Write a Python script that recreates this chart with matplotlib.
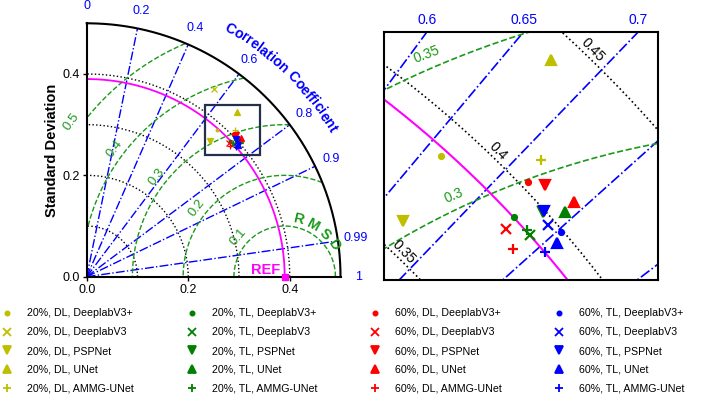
import numpy as np
import matplotlib
matplotlib.use('Agg')
import matplotlib.pyplot as plt
from matplotlib.lines import Line2D
from matplotlib.patches import Rectangle
from matplotlib.textpath import TextToPath
from matplotlib.font_manager import FontProperties

plt.rcParams['font.family'] = ['Liberation Sans', 'DejaVu Sans']

# ---------------- data ----------------
models = ['DeeplabV3+', 'DeeplabV3', 'PSPNet', 'UNet', 'AMMG-UNet']
model_markers = ['.', 'x', 'v', '^', '+']
groups = ['20%, DL', '20%, TL', '60%, DL', '60%, TL']
group_colors = [(0.75, 0.75, 0.0), (0.0, 0.5, 0.0), (1.0, 0.0, 0.0), (0.0, 0.0, 1.0)]

std_20_dl = [0.3875, 0.4466, 0.3608, 0.4399, 0.4115]
corr_20_dl = [0.662, 0.562, 0.672, 0.674, 0.712]
std_20_tl = [0.3901, 0.3901, 0.3990, 0.4052, 0.3904]
corr_20_tl = [0.7255, 0.7406, 0.7355, 0.7446, 0.7370]
std_60_dl = [0.4027, 0.3850, 0.4064, 0.4100, 0.3823]
corr_60_dl = [0.716, 0.7275, 0.7245, 0.7437, 0.7397]
std_60_tl = [0.3992, 0.3975, 0.3997, 0.3958, 0.3901]
corr_60_tl = [0.7517, 0.7437, 0.7355, 0.7552, 0.7548]

group_std = [std_20_dl, std_20_tl, std_60_dl, std_60_tl]
group_corr = [corr_20_dl, corr_20_tl, corr_60_dl, corr_60_tl]

ref_std = 0.39

# left (full) diagram
std_max = 0.5
cor_tick_values = [0, 0.2, 0.4, 0.6, 0.8, 0.9, 0.99, 1]
cor_tick_labels = ['0', '0.2', '0.4', '0.6', '0.8', '0.9', '0.99', '1']
cor_lines_left = [0.2, 0.4, 0.6, 0.8, 0.9, 0.99]
std_arcs_left = [0.1, 0.2, 0.3, 0.4]
rmsd_arcs_left = [0.1, 0.2, 0.3, 0.4, 0.5]
rmsd_labels_left = ['0.1', '0.2', '0.3', '0.4', '0.5']
axis_ticks = [0.0, 0.2, 0.4]
axis_tick_labels = ['0.0', '0.2', '0.4']

# right (zoomed) diagram
cor_lines_right = [0.5, 0.55, 0.6, 0.65, 0.7, 0.75, 0.8, 0.85, 0.9]
cor_ticks_right = [0.6, 0.65, 0.7]
cor_tick_labels_right = ['0.6', '0.65', '0.7']
std_arcs_right = [0.3, 0.35, 0.4, 0.45, 0.5]
std_labels_right = [0.35, 0.4, 0.45]
rmsd_arcs_right = [0.25, 0.3, 0.35, 0.4]
rmsd_labels_right = [0.3, 0.35]

# ---------------- styles ----------------
BLUE = (0.0, 0.0, 1.0)
GREEN = (0.1, 0.6, 0.1)
MAG = (1.0, 0.0, 1.0)
W, H, DPI = 709, 394, 100

fig = plt.figure(figsize=(W / DPI, H / DPI), dpi=DPI)

axL = fig.add_axes([86.7 / W, (H - 276.7) / H, 253.8 / W, 253.4 / H])
axR = fig.add_axes([384 / W, (H - 280) / H, 274 / W, 248 / H])


def draw_grid(ax, cor_lines, std_arcs, rmsd_arcs, rmax, lw, limit):
    t = np.linspace(0, np.pi / 2, 500)
    for s in std_arcs:
        ax.plot(s * np.cos(t), s * np.sin(t), ls=':', color='k', lw=lw, zorder=1)
    for c in cor_lines:
        th = np.arccos(c)
        ax.plot([0, rmax * np.cos(th)], [0, rmax * np.sin(th)], ls='-.',
                color=BLUE, lw=lw, zorder=1)
    tt = np.linspace(0, np.pi, 800)
    for r in rmsd_arcs:
        x = ref_std + r * np.cos(tt)
        y = r * np.sin(tt)
        if limit:
            bad = (np.hypot(x, y) > std_max) | (x < 0)
            x = np.where(bad, np.nan, x)
            y = np.where(bad, np.nan, y)
        ax.plot(x, y, ls='--', color=GREEN, lw=lw, zorder=1)
    ax.plot(ref_std * np.cos(t), ref_std * np.sin(t), '-', color=MAG, lw=lw + 0.3, zorder=2)


def draw_points(ax, ms, mew):
    for std, cor, col in zip(group_std, group_corr, group_colors):
        std = np.array(std)
        cor = np.array(cor)
        x = std * cor
        y = std * np.sqrt(1 - cor ** 2)
        for xi, yi, m in zip(x, y, model_markers):
            ax.plot(xi, yi, marker=m, color=col, ms=ms, mew=mew, ls='none', zorder=5)


# ---------- left panel ----------
draw_grid(axL, cor_lines_left, std_arcs_left, rmsd_arcs_left, std_max, 1.0, True)
t = np.linspace(0, np.pi / 2, 500)
axL.plot(std_max * np.cos(t), std_max * np.sin(t), 'k-', lw=1.5, clip_on=False, zorder=3)
draw_points(axL, 3.8, 0.9)
axL.plot(ref_std, 0, 's', color=MAG, ms=5, clip_on=False, zorder=6)
axL.text(ref_std - 0.009, 0.014, 'REF', color=MAG, fontsize=10.5, fontweight='bold',
         ha='right', va='center')

axL.set_xlim(0, std_max)
axL.set_ylim(0, std_max)
for s in ['top', 'right']:
    axL.spines[s].set_visible(False)
for s in ['left', 'bottom']:
    axL.spines[s].set_linewidth(1.5)
axL.set_xticks(axis_ticks)
axL.set_xticklabels(axis_tick_labels)
axL.set_yticks(axis_ticks)
axL.set_yticklabels(axis_tick_labels)
axL.tick_params(direction='out', length=3, width=1, labelsize=9, pad=2)
axL.set_ylabel('Standard Deviation', fontsize=10.5, fontweight='bold', labelpad=2.5)

# correlation tick labels
for v, lab in zip(cor_tick_values, cor_tick_labels):
    th = np.arccos(v)
    axL.text(0.535 * np.cos(th), 0.535 * np.sin(th), lab, color=BLUE, fontsize=9,
             ha='center', va='center', clip_on=False)

# RMSD labels
rmsd_label_angles = [139, 142, 142, 143, 144]
for r, lab, a in zip(rmsd_arcs_left, rmsd_labels_left, rmsd_label_angles):
    rr = r + 0.02
    ar = np.deg2rad(a)
    axL.text(ref_std + rr * np.cos(ar), rr * np.sin(ar), lab, color=GREEN, fontsize=9.5,
             rotation=a - 90, ha='center', va='center', rotation_mode='anchor')

px_per_unit = 253.8 / std_max
ttp = TextToPath()


def arc_text(ax, text, cx, cy, r, center_deg, fp, color):
    def w(s):
        return ttp.get_text_width_height_descent(s, fp, ismath=False)[0]
    adv = []
    for i in range(len(text)):
        adv.append(w(text[:i + 1] + 'I') - w(text[:i] + 'I'))
    adv = np.array(adv) * DPI / 72.0 / px_per_unit  # data units
    total = adv.sum() / r
    start = np.deg2rad(center_deg) + total / 2
    cum = 0.0
    for ch, a in zip(text, adv):
        ang = start - (cum + a / 2) / r
        cum += a
        if ch == ' ':
            continue
        ax.text(cx + r * np.cos(ang), cy + r * np.sin(ang), ch, fontproperties=fp,
                color=color, rotation=np.rad2deg(ang) - 90, ha='center', va='center',
                rotation_mode='anchor', clip_on=False)


fpC = FontProperties(family='Liberation Sans', weight='bold', size=10.2)
arc_text(axL, 'Correlation Coefficient', 0, 0, 0.565, 45.8, fpC, BLUE)
fpR = FontProperties(family='Liberation Sans', weight='bold', size=10.5)
arc_text(axL, 'R M S D', ref_std, 0, 0.116, 54.5, fpR, GREEN)

# zoom rectangle
axL.add_patch(Rectangle((0.2325, 0.2395), 0.108, 0.100, fill=False,
                        edgecolor='#22304a', lw=1.6, zorder=7))

# ---------- right panel ----------
x0, x1, y0, y1 = 0.2356, 0.3356, 0.246, 0.335
draw_grid(axR, cor_lines_right, std_arcs_right, rmsd_arcs_right, 0.7, 1.2, False)
draw_points(axR, 7.2, 1.6)
axR.set_xlim(x0, x1)
axR.set_ylim(y0, y1)
axR.set_xticks([])
axR.set_yticks([])
for s in axR.spines.values():
    s.set_linewidth(1.5)

for c, lab in zip(cor_ticks_right, cor_tick_labels_right):
    xt = y1 * c / np.sqrt(1 - c ** 2)
    axR.text(xt, y1 + 0.0042, lab, color=BLUE, fontsize=10, ha='center', va='center',
             clip_on=False)

std_lab_angle = np.deg2rad(46.5)
for s in std_labels_right:
    rr = s + 0.003
    axR.text(rr * np.cos(std_lab_angle), rr * np.sin(std_lab_angle), str(s), color='k',
             fontsize=10, rotation=-46, ha='center', va='center', rotation_mode='anchor',
             zorder=4)

rmsd_lab_angles = {0.3: 115, 0.35: 113}
for r in rmsd_labels_right:
    a = rmsd_lab_angles[r]
    rr = r + 0.005
    ar = np.deg2rad(a)
    axR.text(ref_std + rr * np.cos(ar), rr * np.sin(ar), str(r), color=GREEN, fontsize=10,
             rotation=a - 92, ha='center', va='center', rotation_mode='anchor', zorder=4)

# ---------- legend ----------
handles, labels = [], []
for g, col in zip(groups, group_colors):
    for m, name in zip(model_markers, models):
        handles.append(Line2D([], [], marker=m, color=col, ls='none', ms=5.5 if m != '.' else 6,
                              mew=1.3))
        labels.append(f'{g}, {name}')
fig.legend(handles, labels, ncol=4, loc='upper left', bbox_to_anchor=(0.0, 0.2225),
           frameon=False, fontsize=7.7, handlelength=1.0, handletextpad=1.35,
           columnspacing=4.9, labelspacing=0.82, borderpad=0.2, borderaxespad=0.0)

fig.savefig('out.png', dpi=DPI)
